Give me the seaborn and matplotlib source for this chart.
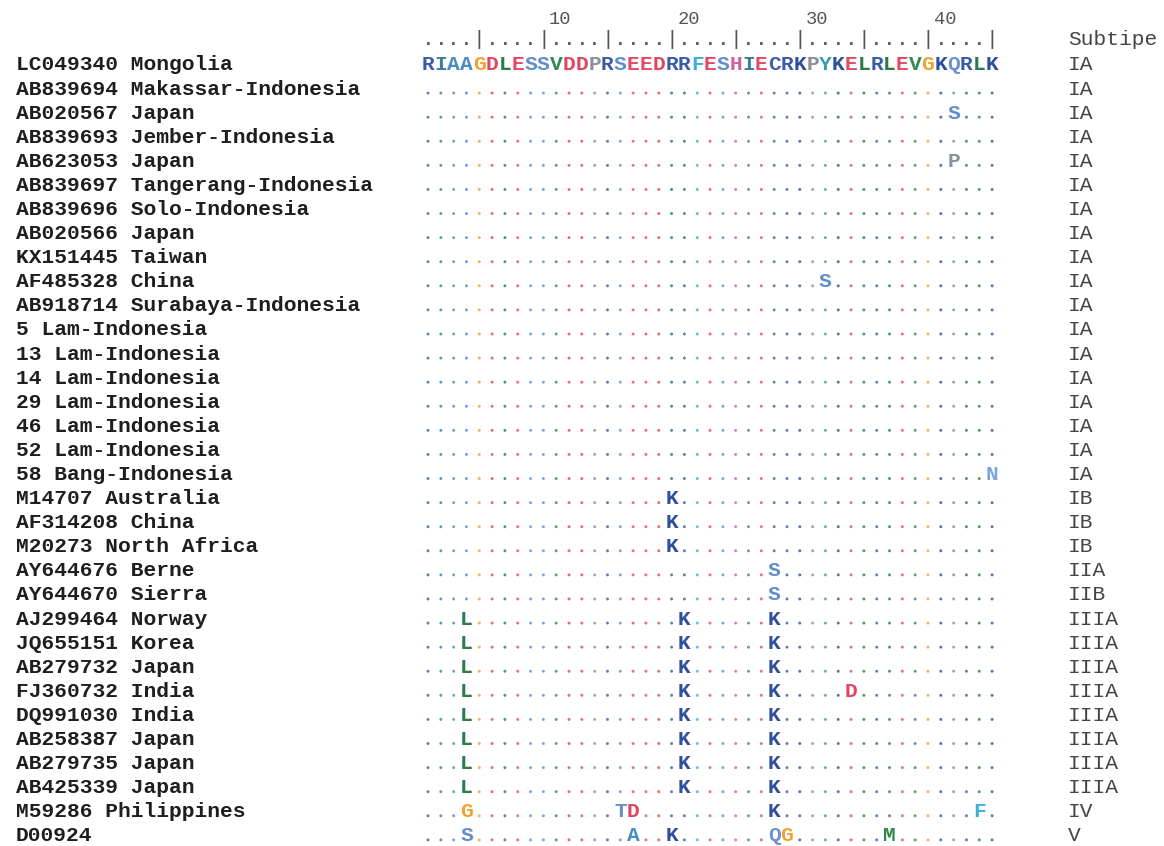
import matplotlib
matplotlib.use("Agg")
import matplotlib.pyplot as plt
import seaborn as sns
import pandas as pd
from matplotlib import transforms

# ---------------- data ----------------
names = [
    "LC049340 Mongolia", "AB839694 Makassar-Indonesia", "AB020567 Japan",
    "AB839693 Jember-Indonesia", "AB623053 Japan", "AB839697 Tangerang-Indonesia",
    "AB839696 Solo-Indonesia", "AB020566 Japan", "KX151445 Taiwan",
    "AF485328 China", "AB918714 Surabaya-Indonesia", "5 Lam-Indonesia",
    "13 Lam-Indonesia", "14 Lam-Indonesia", "29 Lam-Indonesia",
    "46 Lam-Indonesia", "52 Lam-Indonesia", "58 Bang-Indonesia",
    "M14707 Australia", "AF314208 China", "M20273 North Africa",
    "AY644676 Berne", "AY644670 Sierra", "AJ299464 Norway",
    "JQ655151 Korea", "AB279732 Japan", "FJ360732 India",
    "DQ991030 India", "AB258387 Japan", "AB279735 Japan",
    "AB425339 Japan", "M59286 Philippines", "D00924",
]
subtypes = ["IA"] * 18 + ["IB"] * 3 + ["IIA", "IIB"] + ["IIIA"] * 8 + ["IV", "V"]

reference = "RIAAGDLESSVDDPRSEEDRRFESHIECRKPYKELRLEVGKQRLK"
identical = "." * 45
ia_s42 = "." * 41 + "S..."
ia_p42 = "." * 41 + "P..."
ia_s32 = "." * 31 + "S" + "." * 13
ia_n45 = "." * 44 + "N"
ib = "." * 19 + "K" + "." * 25
ii = "." * 27 + "S" + "." * 17
iiia = "...L" + "." * 16 + "K" + "." * 6 + "K" + "." * 17
iiia_d = "...L" + "." * 16 + "K" + "." * 6 + "K" + "." * 5 + "D" + "." * 11
iv = "...G" + "." * 11 + "TD" + "." * 10 + "K" + "." * 15 + "F."
v = "...S" + "." * 12 + "A.." + "K" + "." * 7 + "QG" + "." * 7 + "M" + "." * 8

alignment = [
    reference, identical, ia_s42, identical, ia_p42, identical, identical,
    identical, identical, ia_s32, identical, identical, identical, identical,
    identical, identical, identical, ia_n45, ib, ib, ib, ii, ii,
    iiia, iiia, iiia, iiia_d, iiia, iiia, iiia, iiia, iv, v,
]
ruler_labels = [10, 20, 30, 40]

aa_colors = {
    "R": "#3a5ca6", "K": "#2e4f9c", "D": "#e0455e", "E": "#e34a66",
    "L": "#2c7a4b", "V": "#338a52", "I": "#3f7f9a", "M": "#2f8a4a",
    "A": "#4a8cc4", "G": "#f0a12e", "S": "#5f8ecb", "P": "#8a8f9c",
    "F": "#3aaedc", "H": "#d0609a", "C": "#3f5fa8", "Y": "#3a9ab8",
    "Q": "#6e8fd2", "T": "#6a8cc6", "N": "#7aa4dc",
}

# ---------------- layout ----------------
sns.set_theme(style="white")
plt.rcParams["font.family"] = ["Liberation Mono", "DejaVu Sans Mono"]

W, H = 1164, 846
fig = plt.figure(figsize=(W / 100, H / 100), dpi=100)
ax = fig.add_axes([0, 0, 1, 1])

px_col = 12.82      # pixels per alignment column
px_row = 24.09      # pixels per row
x0_px, y0_px = 428, 64
n_pos = len(reference)

FS = 15.3

# dots (identity to reference) via seaborn
recs = []
for r, seq in enumerate(alignment):
    for i, ch in enumerate(seq):
        if ch == ".":
            recs.append(dict(row=r, pos=i + 1, ref=reference[i]))
dots = pd.DataFrame(recs)
dot_tr = transforms.offset_copy(ax.transData, fig=fig, x=0, y=-5, units="dots")
sns.scatterplot(data=dots, x="pos", y="row", hue="ref", palette=aa_colors,
                marker="o", s=4.5, linewidth=0, alpha=0.8, legend=False,
                ax=ax, transform=dot_tr)

base_tr = transforms.offset_copy(ax.transData, fig=fig, x=0, y=-6.5, units="dots")

# residues
for r, seq in enumerate(alignment):
    for i, ch in enumerate(seq):
        if ch != ".":
            ax.text(i + 1, r, ch, color=aa_colors[ch], fontsize=FS,
                    fontweight="bold", ha="center", va="baseline",
                    transform=base_tr)

# names & subtypes
name_x = 1 + (16 - x0_px) / px_col
sub_x = 1 + (1068 - x0_px) / px_col
for r, (nm, st) in enumerate(zip(names, subtypes)):
    ax.text(name_x, r, nm, color="#1e1e1e", fontsize=FS, fontweight="bold",
            ha="left", va="baseline", transform=base_tr)
    ax.text(sub_x, r, st, color="#444444", fontsize=FS, fontweight="normal",
            ha="left", va="baseline", transform=base_tr)

ruler_row = -0.8
ax.text(sub_x, ruler_row, "Subtipe", color="#444444", fontsize=FS,
        ha="left", va="baseline")

# ruler
for p in range(1, n_pos + 1):
    ch = "|" if p % 5 == 0 else "."
    ax.text(p, ruler_row, ch, color="#555555", fontsize=FS,
            ha="center", va="baseline")
for lab in ruler_labels:
    ax.text(lab + 0.45, -1.66, str(lab), color="#555555", fontsize=13.5,
            ha="left", va="baseline")

ax.set_xlim(1 - x0_px / px_col, 1 + (W - x0_px) / px_col)
ax.set_ylim((H - y0_px) / px_row, -y0_px / px_row)
ax.axis("off")

fig.savefig("out.png", dpi=100, facecolor="white")
